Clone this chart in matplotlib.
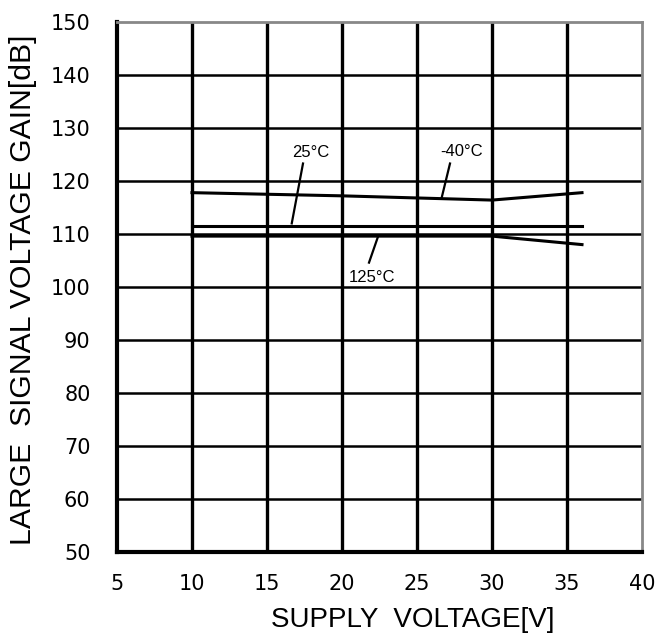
"""Large signal voltage gain vs supply voltage at three temperatures."""

import matplotlib
matplotlib.use("Agg")
import matplotlib.pyplot as plt

plt.rcParams["font.family"] = ["Liberation Sans", "DejaVu Sans"]

# data
vs_m40 = [10, 20, 25, 30, 36]
gain_m40 = [117.8, 117.2, 116.8, 116.4, 117.8]
vs_25 = [10, 36]
gain_25 = [111.6, 111.6]
vs_125 = [10, 30, 36]
gain_125 = [109.6, 109.6, 108.0]

labels = ["-40°C", "25°C", "125°C"]
label_xy = [(28.0, 125.6), (17.9, 125.4), (22.0, 101.8)]
leader_from = [(27.2, 123.3), (17.4, 123.3), (21.8, 104.6)]
leader_to = [(26.65, 116.9), (16.65, 112.0), (22.4, 109.5)]

xticks = [5, 10, 15, 20, 25, 30, 35, 40]
yticks = [50, 60, 70, 80, 90, 100, 110, 120, 130, 140, 150]


def main() -> None:
    fig = plt.figure(figsize=(6.6, 6.33), dpi=100)
    ax = fig.add_axes([117 / 660, 1 - 552 / 633, 525 / 660, 530 / 633])

    ax.set_xlim(5, 40)
    ax.set_ylim(50, 150)
    ax.set_xticks(xticks)
    ax.set_yticks(yticks)
    # tick digits in the reference are wide, DejaVu gets the box size right
    ax.xaxis.set_tick_params(length=0, pad=16, labelsize=15, labelfontfamily="DejaVu Sans")
    ax.yaxis.set_tick_params(length=0, pad=19, labelsize=15, labelfontfamily="DejaVu Sans")

    # grid: heavier verticals, lighter horizontals
    for x in xticks[1:-1]:
        ax.axvline(x, color="black", lw=2.4, zorder=1)
    for y in yticks[1:-1]:
        ax.axhline(y, color="black", lw=1.8, zorder=1)

    for s in ("left", "bottom"):
        ax.spines[s].set_linewidth(3)
    for s in ("top", "right"):
        ax.spines[s].set_color("#888888")
        ax.spines[s].set_linewidth(2)

    ax.plot(vs_m40, gain_m40, color="black", lw=2.2, zorder=3)
    ax.plot(vs_25, gain_25, color="black", lw=2.2, zorder=3)
    ax.plot(vs_125, gain_125, color="black", lw=2.2, zorder=3)

    for txt, (tx, ty), (x0, y0), (x1, y1) in zip(labels, label_xy, leader_from, leader_to):
        ax.text(tx, ty, txt, fontsize=12, ha="center", va="center")
        ax.plot([x0, x1], [y0, y1], color="black", lw=1.6, zorder=3)

    fig.text(413 / 660, 1 - 627 / 633, "SUPPLY  VOLTAGE[V]", fontsize=20,
             ha="center", va="baseline")
    fig.text(23 / 660, 1 - 290 / 633, "LARGE  SIGNAL VOLTAGE GAIN[dB]", fontsize=21.7,
             ha="center", va="center", rotation=90)

    fig.savefig("out.png", dpi=100)
    plt.close(fig)


if __name__ == "__main__":
    main()
